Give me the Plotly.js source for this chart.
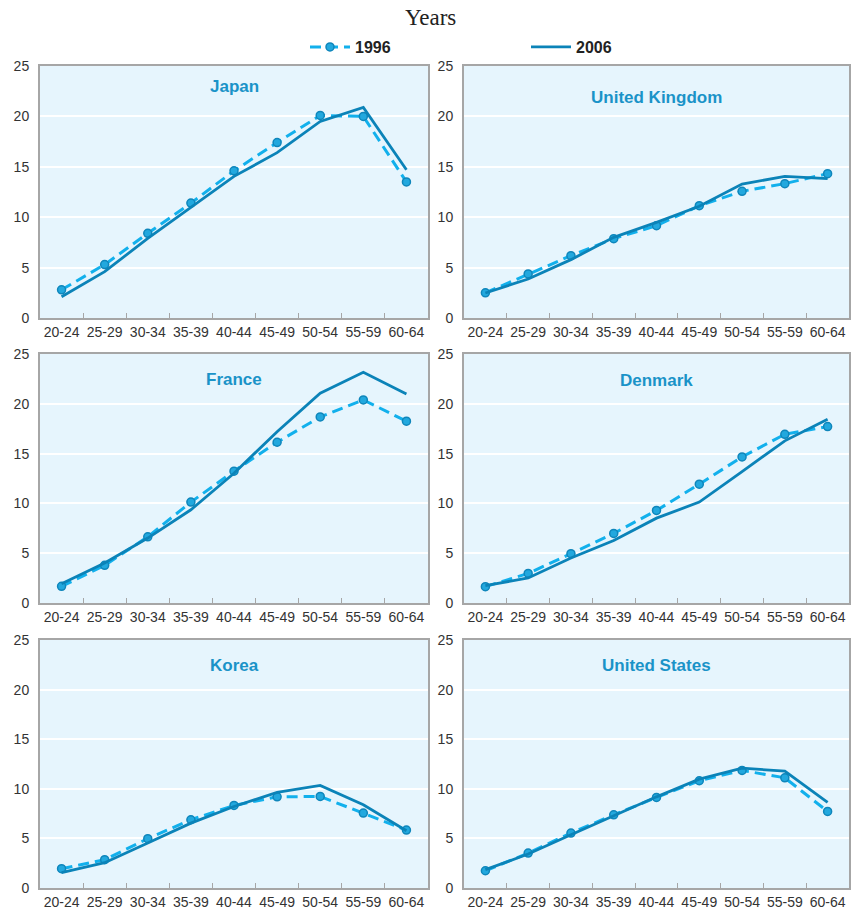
<!DOCTYPE html>
<html>
<head>
<meta charset="utf-8">
<script src="https://cdn.plot.ly/plotly-3.0.1.min.js"></script>
<style>html,body{margin:0;padding:0;background:#fff;}#chart{width:851px;height:912px;}</style>
</head>
<body>
<div id="chart"></div>
<script>
const ageGroups = ["20-24","25-29","30-34","35-39","40-44","45-49","50-54","55-59","60-64"];
const countries = ["Japan","United Kingdom","France","Denmark","Korea","United States"];
const yTicks = [0,5,10,15,20,25];

const japan1996 = [2.8,5.3,8.4,11.4,14.6,17.4,20.1,20.0,13.5];
const japan2006 = [2.1,4.6,7.9,11.0,14.05,16.4,19.5,20.9,14.7];
const uk1996 = [2.5,4.37,6.18,7.87,9.16,11.14,12.57,13.33,14.32];
const uk2006 = [2.48,3.87,5.79,8.0,9.49,11.08,13.29,14.05,13.82];
const france1996 = [1.67,3.78,6.65,10.13,13.24,16.14,18.68,20.39,18.25];
const france2006 = [1.94,4.01,6.52,9.36,13.03,17.2,21.06,23.16,20.99];
const denmark1996 = [1.64,2.97,4.95,6.99,9.29,11.93,14.67,16.94,17.71];
const denmark2006 = [1.74,2.51,4.51,6.28,8.52,10.13,13.2,16.28,18.45];
const korea1996 = [1.95,2.85,4.97,6.88,8.32,9.19,9.23,7.55,5.84];
const korea2006 = [1.54,2.55,4.53,6.54,8.22,9.63,10.34,8.39,5.77];
const us1996 = [1.74,3.52,5.54,7.38,9.13,10.81,11.85,11.11,7.72];
const us2006 = [1.85,3.42,5.37,7.32,9.19,10.97,12.08,11.78,8.62];

const series1996 = [japan1996, uk1996, france1996, denmark1996, korea1996, us1996];
const series2006 = [japan2006, uk2006, france2006, denmark2006, korea2006, us2006];

const W = 851, H = 912;
const colX = [[40,428],[464,849]];
const rowY = [[66,318],[354,603],[640,888]];
const titleOffset = [20,31,26,27,25,25];

const c1996 = "#12b0ec", c2006 = "#0b83b8", markerFill = "#22a8de", markerLine = "#0f86bb";

const data = [];
const layout = {
  width: W, height: H,
  margin: {l:0, r:0, t:0, b:0},
  paper_bgcolor: "#ffffff",
  plot_bgcolor: "#e6f5fd",
  font: {family: "Liberation Sans, Arial, sans-serif", size: 13, color: "#333333"},
  showlegend: true,
  legend: {
    orientation: "h", x: 305/W, y: 1-30/H, xanchor: "left", yanchor: "top",
    entrywidth: 166, entrywidthmode: "pixels",
    font: {family: "Liberation Sans, Arial, sans-serif", size: 16, color: "#222222", weight: "bold"},
    itemwidth: 40, bgcolor: "rgba(0,0,0,0)", traceorder: "normal"
  },
  title: {text: "Years", x: 0.506, xanchor: "center", y: 1-17/H, yanchor: "middle",
    font: {family: "Liberation Serif, Times New Roman, serif", size: 23, color: "#222222"}},
  annotations: [],
  shapes: []
};

for (let i = 0; i < 6; i++) {
  const col = i % 2, row = Math.floor(i / 2);
  const n = i + 1;
  const xa = "x" + (n === 1 ? "" : n), ya = "y" + (n === 1 ? "" : n);
  data.push({
    x: ageGroups, y: series1996[i], xaxis: xa, yaxis: ya, type: "scatter", mode: "lines+markers",
    name: "1996", legendgroup: "1996", showlegend: i === 0,
    line: {color: c1996, width: 3, dash: "11px,6px"},
    marker: {symbol: "circle", size: 8, color: markerFill, line: {color: markerLine, width: 1.5}}
  });
  data.push({
    x: ageGroups, y: series2006[i], xaxis: xa, yaxis: ya, type: "scatter", mode: "lines",
    name: "2006", legendgroup: "2006", showlegend: i === 0,
    line: {color: c2006, width: 2.8}
  });
  const xk = "xaxis" + (n === 1 ? "" : n), yk = "yaxis" + (n === 1 ? "" : n);
  layout[xk] = {
    domain: [colX[col][0]/W, colX[col][1]/W], anchor: ya,
    type: "category", categoryorder: "array", categoryarray: ageGroups,
    range: [-0.5, 8.5], tickson: "boundaries", ticks: "inside", ticklen: 5, tickcolor: "#a6a6a6", tickwidth: 1.2,
    showgrid: false, showline: true, linecolor: "#a6a6a6", linewidth: 2, mirror: true,
    tickangle: 0, automargin: false,
    tickfont: {size: 14, color: "#333333"}, fixedrange: true, zeroline: false
  };
  layout[yk] = {
    domain: [1 - rowY[row][1]/H, 1 - rowY[row][0]/H], anchor: xa,
    range: [0, 25], tickvals: yTicks, ticktext: yTicks.map(String), ticks: "",
    showgrid: true, gridcolor: "#ffffff", gridwidth: 2,
    showline: true, linecolor: "#a6a6a6", linewidth: 2, mirror: true, zeroline: false,
    tickfont: {size: 14, color: "#333333"}, ticklabelstandoff: 6, fixedrange: true
  };
  layout.annotations.push({
    text: countries[i], xref: xa + " domain", yref: ya + " domain",
    x: 0.5, y: 1 - titleOffset[i] / (rowY[row][1] - rowY[row][0]), xanchor: "center", yanchor: "middle",
    showarrow: false, font: {family: "Liberation Sans, Arial, sans-serif", size: 17, color: "#1a93c8", weight: "bold"}
  });
}

Plotly.newPlot("chart", data, layout, {displayModeBar: false, staticPlot: true});
</script>
</body>
</html>
